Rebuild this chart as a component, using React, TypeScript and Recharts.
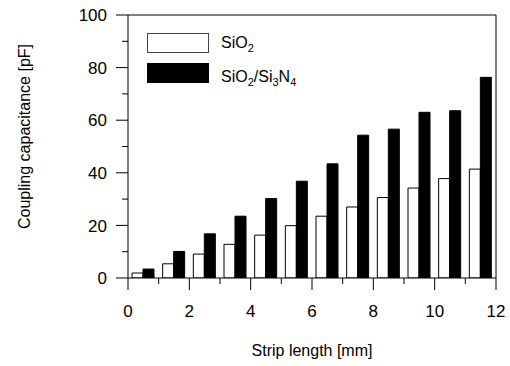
import { BarChart, Bar, XAxis, YAxis, ReferenceLine } from "recharts";

const stripLengths = [0.5, 1.5, 2.5, 3.5, 4.5, 5.5, 6.5, 7.5, 8.5, 9.5, 10.5, 11.5];
const sio2 = [1.9, 5.4, 9.1, 12.8, 16.3, 19.9, 23.5, 27.0, 30.6, 34.2, 37.8, 41.4];
const sio2Si3n4 = [3.4, 10.1, 16.8, 23.5, 30.2, 36.8, 43.4, 54.3, 56.6, 63.0, 63.6, 76.3];
const xTicks = [0, 1, 2, 3, 4, 5, 6, 7, 8, 9, 10, 11, 12];
const yTicks = [0, 10, 20, 30, 40, 50, 60, 70, 80, 90, 100];

const data = stripLengths.map((len, i) => ({
  len,
  sio2: sio2[i],
  nitride: sio2Si3n4[i],
}));

const FONT = "'Liberation Sans', Arial, sans-serif";

function XTick(props: any) {
  const { x, y, payload } = props;
  const major = payload.value % 2 === 0;
  return (
    <g>
      <line x1={x} x2={x} y1={y} y2={y + (major ? 12 : 6)} stroke="#000" />
      {major && (
        <text x={x} y={y + 38.5} textAnchor="middle" fontSize={17} fontFamily={FONT} fill="#000">
          {payload.value}
        </text>
      )}
    </g>
  );
}

function YTick(props: any) {
  const { x, y, payload } = props;
  const major = payload.value % 20 === 0;
  return (
    <g>
      <line x1={x - (major ? 12 : 6)} x2={x} y1={y} y2={y} stroke="#000" />
      {major && (
        <text x={x - 21} y={y} dy="0.36em" textAnchor="end" fontSize={17} fontFamily={FONT} fill="#000">
          {payload.value}
        </text>
      )}
    </g>
  );
}

// legend drawn as an overlay so it doesn't eat plot space
function LegendBox() {
  return (
    <svg width={230} height={60} style={{ position: "absolute", left: 147, top: 33 }}>
      <rect x={0.5} y={0.5} width={61} height={19} fill="#fff" stroke="#444" />
      <rect x={0} y={30} width={62} height={20} fill="#000" />
      <text x={74} y={15} fontSize={16} fontFamily={FONT} fill="#000">
        SiO<tspan fontSize={11} dy={4}>2</tspan>
      </text>
      <text x={74} y={48.5} fontSize={16} fontFamily={FONT} fill="#000">
        SiO<tspan fontSize={11} dy={4}>2</tspan>
        <tspan dy={-4}>/Si</tspan>
        <tspan fontSize={11} dy={4}>3</tspan>
        <tspan dy={-4}>N</tspan>
        <tspan fontSize={11} dy={4}>4</tspan>
      </text>
    </svg>
  );
}

export default function App() {
  return (
    <div style={{ position: "absolute", left: 0, top: 0, width: 510, height: 366, background: "#fff" }}>
      <BarChart
        width={510}
        height={366}
        data={data}
        barSize={11}
        barGap={0}
        margin={{ top: 15, right: 14, bottom: 0, left: 68 }}
      >
        <XAxis
          dataKey="len"
          type="number"
          domain={[0, 12]}
          ticks={xTicks}
          interval={0}
          height={88}
          tickSize={0}
          tickMargin={0}
          tickLine={false}
          axisLine={{ stroke: "#000" }}
          tick={<XTick />}
          allowDataOverflow
          label={{
            value: "Strip length [mm]",
            position: "insideBottom",
            offset: 10,
            fontSize: 16,
            fontFamily: FONT,
            fill: "#000",
          }}
        />
        <YAxis
          domain={[0, 100]}
          ticks={yTicks}
          interval={0}
          width={60}
          tickSize={0}
          tickMargin={0}
          tickLine={false}
          axisLine={{ stroke: "#000" }}
          tick={<YTick />}
          allowDataOverflow
          label={{
            value: "Coupling capacitance [pF]",
            angle: -90,
            position: "insideLeft",
            offset: -44,
            dy: -10,
            fontSize: 16,
            fontFamily: FONT,
            fill: "#000",
            style: { textAnchor: "middle" },
          }}
        />
        <ReferenceLine y={100} stroke="#000" />
        <ReferenceLine x={12} stroke="#000" />
        <Bar dataKey="sio2" fill="#fff" stroke="#000" strokeWidth={1} isAnimationActive={false} />
        <Bar dataKey="nitride" fill="#000" stroke="#000" strokeWidth={1} isAnimationActive={false} />
      </BarChart>
      <LegendBox />
    </div>
  );
}
